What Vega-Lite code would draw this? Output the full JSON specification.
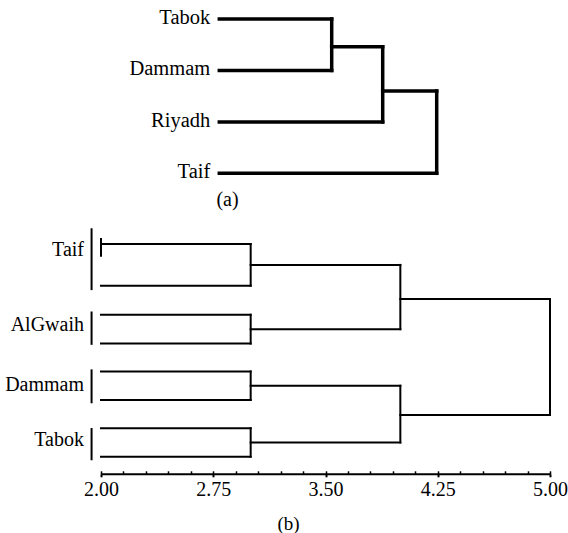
{
  "$schema": "https://vega.github.io/schema/vega-lite/v6.json",
  "background": "white",
  "padding": {"left": 5, "top": 0, "right": 0, "bottom": 0},
  "spacing": 17,
  "config": {
    "view": {"stroke": null},
    "font": "Liberation Serif",
    "axis": {"grid": false}
  },
  "datasets": {
    "topSegs": [
      {"x": 0, "x2": 1.124, "y": 0, "y2": 0},
      {"x": 0, "x2": 1.124, "y": 1, "y2": 1},
      {"x": 0, "x2": 1.634, "y": 2, "y2": 2},
      {"x": 0, "x2": 2.174, "y": 3, "y2": 3},
      {"x": 1.124, "x2": 1.124, "y": 0, "y2": 1},
      {"x": 1.124, "x2": 1.634, "y": 0.54, "y2": 0.54},
      {"x": 1.634, "x2": 1.634, "y": 0.54, "y2": 2},
      {"x": 1.634, "x2": 2.174, "y": 1.4, "y2": 1.4},
      {"x": 2.174, "x2": 2.174, "y": 1.4, "y2": 3}
    ],
    "topLabels": [
      {"name": "Tabok", "y": 0},
      {"name": "Dammam", "y": 1},
      {"name": "Riyadh", "y": 2},
      {"name": "Taif", "y": 3}
    ],
    "botSegs": [
      {"x": 2, "x2": 3, "y": 0, "y2": 0},
      {"x": 2, "x2": 3, "y": 1.46, "y2": 1.46},
      {"x": 2, "x2": 3, "y": 2.48, "y2": 2.48},
      {"x": 2, "x2": 3, "y": 3.49, "y2": 3.49},
      {"x": 2, "x2": 3, "y": 4.47, "y2": 4.47},
      {"x": 2, "x2": 3, "y": 5.47, "y2": 5.47},
      {"x": 2, "x2": 3, "y": 6.46, "y2": 6.46},
      {"x": 2, "x2": 3, "y": 7.46, "y2": 7.46},
      {"x": 3, "x2": 3, "y": 0, "y2": 1.46},
      {"x": 3, "x2": 3, "y": 2.48, "y2": 3.49},
      {"x": 3, "x2": 3, "y": 4.47, "y2": 5.47},
      {"x": 3, "x2": 3, "y": 6.46, "y2": 7.46},
      {"x": 3, "x2": 4, "y": 0.73, "y2": 0.73},
      {"x": 3, "x2": 4, "y": 2.985, "y2": 2.985},
      {"x": 3, "x2": 4, "y": 4.97, "y2": 4.97},
      {"x": 3, "x2": 4, "y": 6.96, "y2": 6.96},
      {"x": 4, "x2": 4, "y": 0.73, "y2": 2.985},
      {"x": 4, "x2": 4, "y": 4.97, "y2": 6.96},
      {"x": 4, "x2": 5, "y": 1.93, "y2": 1.93},
      {"x": 4, "x2": 5, "y": 6.0, "y2": 6.0},
      {"x": 5, "x2": 5, "y": 1.93, "y2": 6.0},
      {"x": 2, "x2": 2, "y": -0.18, "y2": 0.41},
      {"x": 1.937, "x2": 1.937, "y": -0.52, "y2": 1.58},
      {"x": 1.937, "x2": 1.937, "y": 2.4, "y2": 3.5},
      {"x": 1.937, "x2": 1.937, "y": 4.43, "y2": 5.55},
      {"x": 1.937, "x2": 1.937, "y": 6.49, "y2": 7.55}
    ],
    "botLabels": [
      {"name": "Taif", "y": 0.22},
      {"name": "AlGwaih", "y": 2.85},
      {"name": "Dammam", "y": 4.96},
      {"name": "Tabok", "y": 6.89}
    ]
  },
  "vconcat": [
    {
      "width": 449,
      "height": 173.3,
      "layer": [
        {
          "data": {"name": "topSegs"},
          "mark": {"type": "rule", "strokeWidth": 3.5, "color": "black", "strokeCap": "square"},
          "encoding": {
            "x": {"field": "x", "type": "quantitative",
                  "scale": {"domain": [-1.183, 3.307], "nice": false, "zero": false},
                  "axis": {"title": "(a)", "domain": false, "ticks": false, "labels": false,
                           "titleFont": "Liberation Serif", "titleFontSize": 20, "titleFontWeight": "normal",
                           "titleColor": "black", "titleX": 126, "titlePadding": 16}},
            "x2": {"field": "x2"},
            "y": {"field": "y", "type": "quantitative",
                  "scale": {"domain": [-0.37, 3.0], "nice": false, "zero": false, "reverse": true},
                  "axis": null},
            "y2": {"field": "y2"}
          }
        },
        {
          "data": {"name": "topLabels"},
          "mark": {"type": "text", "align": "right", "baseline": "middle", "dx": -9, "dy": -1,
                   "fontSize": 20.5, "font": "Liberation Serif", "color": "black"},
          "encoding": {
            "x": {"datum": 0, "type": "quantitative"},
            "y": {"field": "y", "type": "quantitative"},
            "text": {"field": "name"}
          }
        }
      ]
    },
    {
      "width": 449,
      "height": 246.8,
      "layer": [
        {
          "data": {"name": "botSegs"},
          "mark": {"type": "rule", "strokeWidth": 2, "color": "black", "strokeCap": "square"},
          "encoding": {
            "x": {"field": "x", "type": "quantitative",
                  "scale": {"domain": [2, 5], "nice": false, "zero": false},
                  "axis": {"title": "(b)", "values": [2, 2.75, 3.5, 4.25, 5], "format": ".2f",
                           "domainColor": "black", "domainWidth": 2, "tickColor": "black", "tickWidth": 2,
                           "tickSize": 3, "labelPadding": 3, "labelFontSize": 20, "labelColor": "black",
                           "labelFont": "Liberation Serif", "labelFlush": false,
                           "titleFont": "Liberation Serif", "titleFontSize": 19, "titleFontWeight": "normal",
                           "titleColor": "black", "titleX": 187, "titlePadding": 15}},
            "x2": {"field": "x2"},
            "y": {"field": "y", "type": "quantitative",
                  "scale": {"domain": [-0.6, 8.06], "nice": false, "zero": false, "reverse": true},
                  "axis": null},
            "y2": {"field": "y2"}
          }
        },
        {
          "data": {"name": "botLabels"},
          "mark": {"type": "text", "align": "right", "baseline": "middle", "dx": -17,
                   "fontSize": 20, "font": "Liberation Serif", "color": "black"},
          "encoding": {
            "x": {"datum": 2, "type": "quantitative",
                  "axis": {"orient": "top", "offset": -246.8, "values": [2, 2.15, 2.3, 2.45, 2.6, 2.75, 2.9, 3.05, 3.2, 3.35, 3.5, 3.65, 3.8, 3.95, 4.1, 4.25, 4.4, 4.55, 4.7, 4.85, 5],
                           "domain": false, "labels": false, "title": null, "tickSize": 3,
                           "tickColor": "black", "tickWidth": 1.5}},
            "y": {"field": "y", "type": "quantitative"},
            "text": {"field": "name"}
          }
        }
      ],
      "resolve": {"axis": {"x": "independent"}}
    }
  ]
}
